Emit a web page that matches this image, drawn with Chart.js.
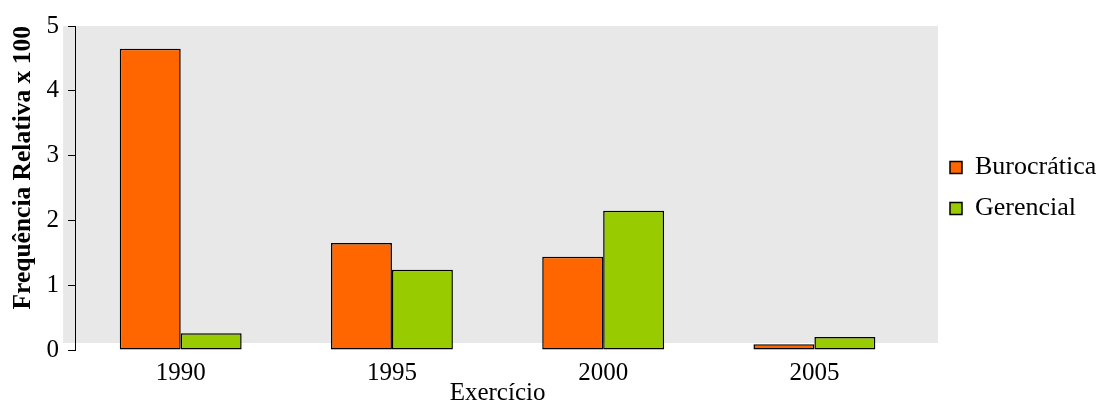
<!DOCTYPE html>
<html>
<head>
<meta charset="utf-8">
<script src="https://cdn.jsdelivr.net/npm/chart.js@4.4.0/dist/chart.umd.min.js"></script>
<style>
    body { margin: 0; background: #fff; }
    #wrap { width: 1099px; height: 405px; }
</style>
</head>
<body>
<div id="wrap"><canvas id="myChart"></canvas></div>
<script>
const years = ['1990', '1995', '2000', '2005'];
const burocratica = [4.65, 1.65, 1.44, 0.09];
const gerencial = [0.26, 1.24, 2.15, 0.2];
const yTicks = [0, 1, 2, 3, 4, 5];

const serif = "'Liberation Serif', 'Times New Roman', serif";

// gray panel behind the bars
const panelBg = {
    id: 'panelBg',
    beforeDraw(chart) {
        const { ctx, chartArea } = chart;
        ctx.save();
        ctx.fillStyle = '#e8e8e8';
        ctx.fillRect(chartArea.left - 12, chartArea.top, chartArea.width + 30, chartArea.height - 7);
        ctx.restore();
    }
};

const ctx = document.getElementById('myChart');

new Chart(ctx, {
    type: 'bar',
    data: {
        labels: years,
        datasets: [{
            label: 'Burocrática',
            data: burocratica,
            backgroundColor: '#ff6600',
            borderColor: '#000',
            borderWidth: 1.5,
            borderSkipped: false
        }, {
            label: 'Gerencial',
            data: gerencial,
            backgroundColor: '#99cc00',
            borderColor: '#000',
            borderWidth: 1.5,
            borderSkipped: false
        }]
    },
    options: {
        responsive: true,
        maintainAspectRatio: false,
        animation: false,
        layout: {
            padding: { top: 26, right: 0, bottom: 0, left: 8 }
        },
        datasets: {
            bar: { categoryPercentage: 0.577, barPercentage: 1 }
        },
        plugins: {
            legend: {
                position: 'right',
                fullSize: false,
                maxWidth: 164,
                labels: {
                    boxWidth: 12,
                    boxHeight: 12,
                    padding: 15,
                    color: '#000',
                    font: { family: serif, size: 26 },
                    generateLabels(chart) {
                        return chart.data.datasets.map((ds, i) => ({
                            text: ds.label,
                            fillStyle: ds.backgroundColor,
                            strokeStyle: '#000',
                            lineWidth: 1.5,
                            datasetIndex: i
                        }));
                    }
                }
            },
            tooltip: { enabled: false }
        },
        scales: {
            x: {
                grid: { display: false },
                border: { display: false },
                ticks: { color: '#000', font: { family: serif, size: 25 }, padding: 0 },
                title: {
                    display: true,
                    text: 'Exercício',
                    color: '#000',
                    font: { family: serif, size: 25 },
                    padding: { top: -10, bottom: -3 }
                }
            },
            y: {
                min: 0,
                max: 5,
                afterBuildTicks(scale) {
                    scale.ticks = yTicks.map(v => ({ value: v }));
                },
                grid: {
                    drawOnChartArea: false,
                    drawTicks: true,
                    tickLength: 7,
                    color: '#000'
                },
                border: { display: true, color: '#000', width: 1 },
                ticks: { color: '#000', font: { family: serif, size: 25 }, padding: 9 },
                title: {
                    display: true,
                    text: 'Frequência Relativa x 100',
                    align: 'end',
                    color: '#000',
                    font: { family: serif, size: 25.5, weight: 'bold' },
                    padding: { top: 0, bottom: -1 }
                }
            },
            // empty spacer between the panel and the legend
            gap: {
                position: 'right',
                grid: { display: false },
                border: { display: false },
                ticks: { display: false },
                afterFit(scale) {
                    scale.width = 15;
                }
            }
        }
    },
    plugins: [panelBg]
});
</script>
</body>
</html>
